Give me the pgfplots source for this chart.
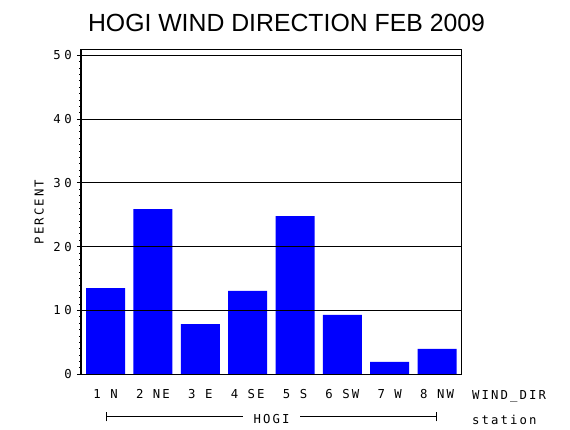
\documentclass[border=0pt]{standalone}
\usepackage{fontspec}
\setmainfont{Liberation Sans}
\newfontfamily\sasmono{DejaVu Sans Mono}[LetterSpace=17]
\newfontfamily\sasmonoy{DejaVu Sans Mono}[LetterSpace=29]
\newcommand\sas{\sasmono\fontsize{12.3bp}{14bp}\selectfont}
\newcommand\sasy{\sasmonoy\fontsize{12.3bp}{14bp}\selectfont}
\usepackage{pgfplots}
\pgfplotsset{compat=1.18}

\begin{document}
\begin{tikzpicture}
\useasboundingbox (0,0) rectangle (570bp,430bp);
\node[anchor=base, inner sep=0pt, font=\fontsize{24.8bp}{28bp}\selectfont]
  at (286.5bp,398.3bp) {HOGI WIND DIRECTION FEB 2009};
\begin{axis}[
  at={(81bp,55.7bp)}, anchor=south west,
  scale only axis, width=380.7bp, height=324.6bp,
  ybar, bar width=39bp,
  xmin=0.48, xmax=8.52, ymin=0, ymax=50.88,
  xtick=data,
  xticklabels={1 N,2 NE,3 E,4 SE,5 S,6 SW,7 W,8 NW},
  ytick={0,10,...,50}, minor y tick num=9,
  ymajorgrids, grid style={black, line width=0.9bp},
  axis on top,
  tick align=outside, major tick length=4bp, minor tick length=2bp,
  xtick style={draw=none}, ytick pos=left,
  tick style={black, line width=0.9bp},
  axis line style={line width=1.2bp},
  /pgf/number format/assume math mode=true,
  yticklabel style={font=\sasy, inner sep=0pt, xshift=-5bp},
  xticklabel style={font=\sas, anchor=base, inner sep=0pt, yshift=-20bp},
  ylabel={PERCENT},
  ylabel style={font=\sas, at={(axis description cs:-0.110,0.5)}, anchor=center},
]
\addplot[fill=blue, draw=none] coordinates {
  (1,13.5) (2,25.9) (3,7.88) (4,13.06)
  (5,24.8) (6,9.3) (7,1.93) (8,3.97)
};
\end{axis}
\node[font=\sas, anchor=base west, inner sep=0pt] at (472bp,31bp) {WIND\_DIR};
\node[font=\sas, anchor=base west, inner sep=0pt] at (472bp,6bp) {station};
\node[font=\sas, anchor=base, inner sep=0pt] at (271.5bp,6.7bp) {HOGI};
\begin{scope}[line width=0.9bp]
\draw (106.7bp,13.3bp) -- (243bp,13.3bp);
\draw (300bp,13.3bp) -- (436.7bp,13.3bp);
\draw (106.7bp,8.6bp) -- (106.7bp,18bp);
\draw (436.7bp,8.6bp) -- (436.7bp,18bp);
\end{scope}
\end{tikzpicture}
\end{document}
